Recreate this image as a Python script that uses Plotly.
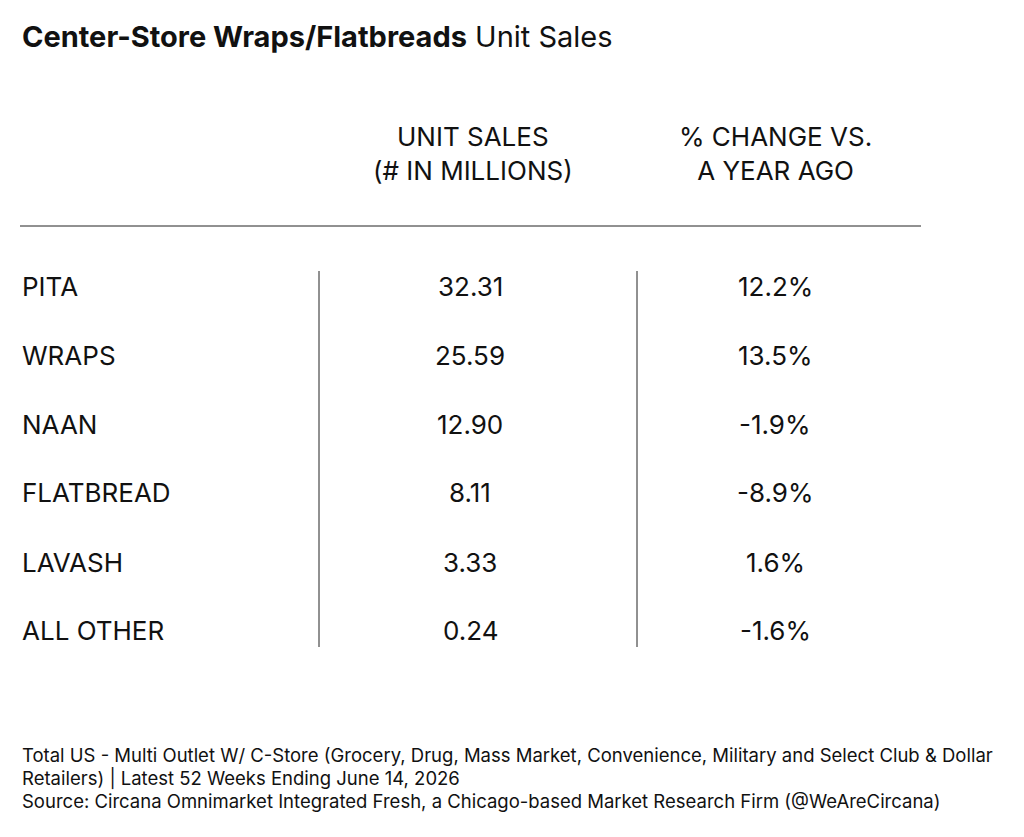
import plotly.graph_objects as go

W, H = 1024, 837

# --- Data ---
categories = ["PITA", "WRAPS", "NAAN", "FLATBREAD", "LAVASH", "ALL OTHER"]
unit_sales = [32.31, 25.59, 12.90, 8.11, 3.33, 0.24]
pct_change = [12.2, 13.5, -1.9, -8.9, 1.6, -1.6]
headers = ["UNIT SALES<br>(# IN MILLIONS)", "% CHANGE VS.<br>A YEAR AGO"]
footer = [
    "Total US - Multi Outlet W/ C-Store (Grocery, Drug, Mass Market, Convenience, Military and Select Club & Dollar",
    "Retailers) | Latest 52 Weeks Ending June 14, 2026",
    "Source: Circana Omnimarket Integrated Fresh, a Chicago-based Market Research Firm (@WeAreCircana)",
]

FONT = "Inter, Roboto, sans-serif"
OFF = 8  # page body margin


def px(x):
    return (x - OFF) / W


def py(y):
    return 1 - (y - OFF) / H


fig = go.Figure()
ann = []
shapes = []


def text(x, y, s, size, xanchor="left"):
    ann.append(dict(x=px(x), y=py(y), xref="paper", yref="paper", text=s,
                    showarrow=False, xanchor=xanchor, yanchor="middle",
                    font=dict(family=FONT, size=size, color="#111"), align="center"))


text(20, 36, "<b>Center-Store Wraps/Flatbreads</b> Unit Sales", 29)
text(473, 154, headers[0], 26, "center")
text(775, 154, headers[1], 26, "center")

row_y = [287, 355, 424, 492, 562, 630]
for cat, v, p, y in zip(categories, unit_sales, pct_change, row_y):
    text(20, y, cat, 26)
    text(470, y, f"{v:.2f}", 26, "center")
    text(775, y, f"{p:.1f}%", 26, "center")

for i, line in enumerate(footer):
    text(20, 755 + i * 23, line, 18.5)

shapes.append(dict(type="line", xref="paper", yref="paper", x0=px(20), x1=px(921),
                   y0=py(226), y1=py(226), line=dict(color="#222", width=1)))
for x in (319, 637):
    shapes.append(dict(type="line", xref="paper", yref="paper", x0=px(x), x1=px(x),
                       y0=py(271), y1=py(647), line=dict(color="#222", width=1)))

fig.update_layout(width=W, height=H, margin=dict(l=0, r=0, t=0, b=0),
                  paper_bgcolor="white", plot_bgcolor="white",
                  xaxis=dict(visible=False), yaxis=dict(visible=False),
                  annotations=ann, shapes=shapes)
fig.write_html("out.html")
